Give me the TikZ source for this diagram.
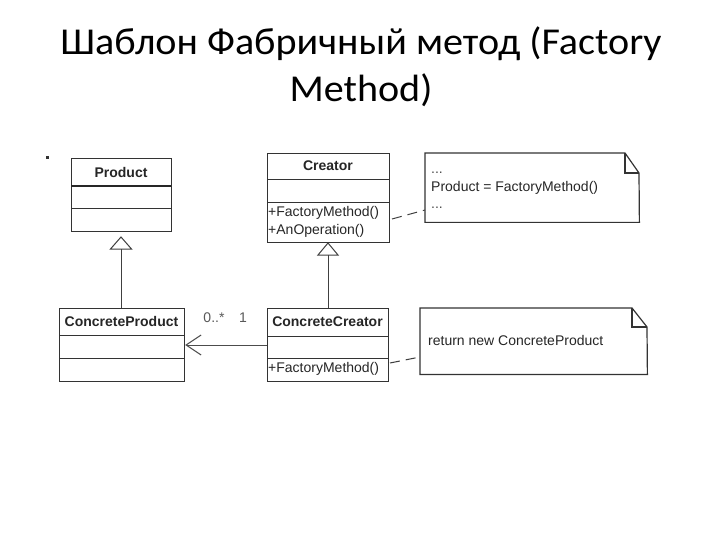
\documentclass[tikz,border=0pt]{standalone}
\usepackage{fontspec}
\setmainfont{Carlito}
\newfontfamily\arialf{Liberation Sans}
\usetikzlibrary{arrows.meta}
\begin{document}
\begin{tikzpicture}[x=1pt,y=-1pt,
  classbox/.style={draw=black!80,line width=1.2pt,fill=white,inner sep=0pt,anchor=north west},
  sep/.style={draw=black!80,line width=1pt},
  thicksep/.style={draw=black!85,line width=1.8pt},
  uml/.style={font=\arialf\fontsize{14}{16}\selectfont,text=black!85,inner sep=0pt},
  umlb/.style={font=\arialf\bfseries\fontsize{14}{16}\selectfont,text=black!85,inner sep=0pt},
  notebox/.style={draw=black!80,line width=1.2pt,fill=white,line join=miter},
  inherit/.style={draw=black!75,line width=1pt},
  dashconn/.style={draw=black!75,line width=1pt,dash pattern=on 10pt off 6pt},
  title/.style={font=\fontsize{38}{46}\selectfont,text=black,inner sep=0pt,align=center,xscale=1.055}
]
\useasboundingbox (0,0) rectangle (720,540);
\fill[white] (0,0) rectangle (720,540);

% title
\node[title,anchor=base] (t1) at (361,55) {Шаблон Фабричный метод (Factory};
\node[title,anchor=base] (t2) at (361,101.7) {Method)};
\fill[black!80] (45.5,156.5) rectangle (48.5,159.5);

% Product
\node[classbox,minimum width=100pt,minimum height=73pt] (product) at (71,158) {};
\draw[thicksep] (71,186) -- (171,186);
\draw[sep] (71,209) -- (171,209);
\node[umlb] (productt) at (121,172) {Product};

% Creator
\node[classbox,minimum width=122pt,minimum height=89pt] (creator) at (267,153) {};
\draw[sep] (267,180) -- (389,180);
\draw[sep] (267,203) -- (389,203);
\node[umlb] (creatort) at (328,166) {Creator};
\node[uml,anchor=west] (cm1) at (268,213) {+FactoryMethod()};
\node[uml,anchor=west] (cm2) at (268,231) {+AnOperation()};

% ConcreteProduct
\node[classbox,minimum width=125pt,minimum height=73pt] (cproduct) at (59,308) {};
\draw[sep] (59,335) -- (184,335);
\draw[sep] (59,358) -- (184,358);
\node[umlb] (cproductt) at (121.5,321) {ConcreteProduct};

% ConcreteCreator
\node[classbox,minimum width=121pt,minimum height=73pt] (ccreator) at (267,308) {};
\draw[sep] (267,336) -- (388,336);
\draw[sep] (267,358) -- (388,358);
\node[umlb] (ccreatort) at (327.5,322) {ConcreteCreator};
\node[uml,anchor=west] (ccm1) at (268,369) {+FactoryMethod()};

% inheritance Product <- ConcreteProduct
\coordinate (pa) at (121,237);
\coordinate (pb) at (121,249);
\draw[inherit,fill=white] (pa) -- (110.5,249) -- (131.5,249) -- cycle;
\draw[inherit] (pb) -- (cproduct.north -| pb);

% inheritance Creator <- ConcreteCreator
\coordinate (ca) at (328,243);
\coordinate (cb) at (328,255);
\draw[inherit,fill=white] (ca) -- (318,255) -- (338,255) -- cycle;
\draw[inherit] (cb) -- (ccreator.north -| cb);

% association
\coordinate (assocs) at (267,345);
\draw[draw=black!70,line width=1pt,-{Straight Barb[length=15pt,width=20pt,line width=1pt]}] (assocs) -- (assocs -| cproduct.east);
\node[uml,text=black!65] (m1) at (214,318) {0..*};
\node[uml,text=black!65] (m2) at (243,318) {1};

% note 1
\node[inner sep=0pt,minimum width=214pt,minimum height=69pt,anchor=north west] (note1) at (425,153) {};
\draw[notebox] (note1.north west) -- (625,153) -- (639,173) -- (note1.south east) -- (note1.south west) -- cycle;
\draw[notebox,fill=none] (625,153) -- (625,173) -- (639,173);
\node[uml,anchor=base west,text=black!70] (n1a) at (431,173.5) {...};
\node[uml,anchor=west] (n1b) at (431,188) {Product = FactoryMethod()};
\node[uml,anchor=base west,text=black!70] (n1c) at (431,208) {...};
\coordinate (d1) at (392,219);
\draw[dashconn] (d1) -- (note1.west |- 0,210);

% note 2
\node[inner sep=0pt,minimum width=227pt,minimum height=66pt,anchor=north west] (note2) at (420,308) {};
\draw[notebox] (note2.north west) -- (632,308) -- (647,327) -- (note2.south east) -- (note2.south west) -- cycle;
\draw[notebox,fill=none] (632,308) -- (632,327) -- (647,327);
\node[uml,anchor=west] (n2) at (428,340) {return new ConcreteProduct};
\coordinate (d2) at (390,363);
\draw[dashconn] (d2) -- (note2.west |- 0,357);
\end{tikzpicture}
\end{document}
